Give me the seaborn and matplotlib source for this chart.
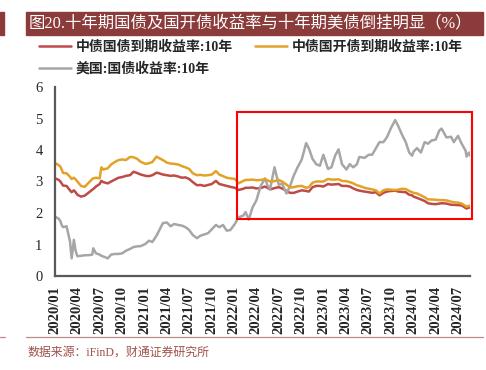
import matplotlib
matplotlib.use("Agg")
import matplotlib.pyplot as plt
import matplotlib.dates as mdates
from matplotlib.patches import Rectangle
from matplotlib.lines import Line2D
import seaborn as sns
import pandas as pd
import numpy as np

nan = np.nan

dates = [
    "2020-01-02", "2020-01-16", "2020-01-23", "2020-01-28", "2020-02-03", "2020-02-17", "2020-03-02", "2020-03-09", "2020-03-18", "2020-03-25",
    "2020-04-01", "2020-04-16", "2020-05-01", "2020-05-16", "2020-06-01", "2020-06-05", "2020-06-16", "2020-07-01", "2020-07-08", "2020-07-16",
    "2020-08-03", "2020-08-17", "2020-09-01", "2020-09-16", "2020-10-01", "2020-10-16", "2020-11-02", "2020-11-16", "2020-12-01", "2020-12-16",
    "2021-01-04", "2021-01-18", "2021-02-01", "2021-02-18", "2021-03-01", "2021-03-16", "2021-04-01", "2021-04-16", "2021-05-01", "2021-05-17",
    "2021-06-01", "2021-06-16", "2021-07-01", "2021-07-16", "2021-08-02", "2021-08-16", "2021-09-01", "2021-09-16", "2021-10-01", "2021-10-18",
    "2021-11-01", "2021-11-16", "2021-12-01", "2021-12-16",
    "2022-01-04", "2022-01-18", "2022-02-07", "2022-02-16", "2022-03-01", "2022-03-16", "2022-04-01", "2022-04-18", "2022-05-06", "2022-05-16",
    "2022-05-27", "2022-06-14", "2022-07-01", "2022-07-15", "2022-08-02", "2022-08-16", "2022-09-01", "2022-09-16", "2022-10-03", "2022-10-21",
    "2022-11-01", "2022-11-16", "2022-12-01", "2022-12-16", "2022-12-30",
    "2023-01-18", "2023-02-01", "2023-02-16", "2023-03-02", "2023-03-16", "2023-04-03", "2023-04-17", "2023-05-01", "2023-05-16", "2023-05-26",
    "2023-06-16", "2023-07-03", "2023-07-17", "2023-08-01", "2023-08-16", "2023-09-01", "2023-09-15", "2023-10-02", "2023-10-19", "2023-11-01",
    "2023-11-15", "2023-12-01", "2023-12-15", "2023-12-27",
    "2024-01-02", "2024-01-16", "2024-02-01", "2024-02-16", "2024-03-01", "2024-03-15", "2024-04-01", "2024-04-16", "2024-04-25", "2024-05-15",
    "2024-06-03", "2024-06-14", "2024-07-01", "2024-07-16", "2024-08-01", "2024-08-05", "2024-08-15", "2024-08-19",
]

# 中债国债到期收益率:10年
cgb_10y = [
    3.10, 3.05, 3.00, nan, 2.87, 2.86, 2.72, 2.66, 2.72, 2.66,
    2.58, 2.52, 2.55, 2.64, 2.74, 2.76, 2.84, 2.92, 3.02, 2.98,
    2.94, 3.00, 3.06, 3.12, 3.14, 3.18, 3.20, 3.31, 3.27, 3.22,
    3.18, 3.17, 3.20, 3.28, 3.26, 3.22, 3.20, 3.18, 3.19, 3.16,
    3.12, 3.13, 3.08, 2.98, 2.88, 2.89, 2.86, 2.89, 2.92, 3.02,
    2.92, 2.89, 2.86, 2.83,
    2.80, 2.73, 2.77, 2.80, 2.80, 2.81, 2.78, 2.79, 2.84, 2.80,
    2.75, 2.79, 2.82, 2.78, 2.70, 2.64, 2.64, 2.68, 2.72, 2.70,
    2.68, 2.82, 2.86, 2.86, 2.84,
    2.92, 2.90, 2.91, 2.92, 2.86, 2.86, 2.84, 2.78, 2.73, 2.71,
    2.68, 2.66, 2.64, 2.66, 2.56, 2.64, 2.68, 2.70, 2.71, 2.68,
    2.67, 2.66, 2.58, 2.56,
    2.52, 2.48, 2.43, 2.38, 2.31, 2.29, 2.28, 2.30, 2.31, 2.30,
    2.26, 2.26, 2.25, 2.24, 2.16, 2.14, 2.18, 2.17,
]

# 中债国开债到期收益率:10年
cdb_10y = [
    3.58, 3.52, 3.47, nan, 3.27, 3.26, 3.15, 3.08, 3.12, 3.07,
    3.00, 2.86, 2.83, 2.95, 3.08, 3.10, 3.12, 3.10, 3.45, 3.38,
    3.42, 3.54, 3.62, 3.68, 3.70, 3.68, 3.78, 3.77, 3.72, 3.62,
    3.56, 3.58, 3.62, 3.79, 3.74, 3.68, 3.60, 3.57, 3.56, 3.54,
    3.49, 3.45, 3.40, 3.26, 3.20, 3.21, 3.19, 3.20, 3.22, 3.33,
    3.22, 3.17, 3.12, 3.10,
    3.08, 2.94, 3.02, 3.05, 3.05, 3.06, 3.04, 3.05, 3.07, 3.04,
    3.00, 3.01, 3.05, 3.00, 2.90, 2.81, 2.82, 2.85, 2.86, 2.80,
    2.82, 2.96, 3.00, 3.00, 3.00,
    3.08, 3.06, 3.06, 3.07, 3.02, 3.01, 2.98, 2.94, 2.88, 2.86,
    2.80, 2.77, 2.75, 2.72, 2.62, 2.72, 2.75, 2.74, 2.73, 2.74,
    2.77, 2.76, 2.70, 2.66,
    2.64, 2.62, 2.56, 2.50, 2.43, 2.43, 2.42, 2.41, 2.41, 2.40,
    2.36, 2.34, 2.33, 2.30, 2.22, 2.20, 2.23, 2.22,
]

# 美国:国债收益率:10年
ust_10y = [
    1.88, 1.82, 1.74, 1.62, 1.55, 1.58, 1.10, 0.56, 1.15, 0.80,
    0.63, 0.64, 0.66, 0.66, 0.68, 0.88, 0.72, 0.68, 0.64, 0.62,
    0.56, 0.68, 0.70, 0.70, 0.72, 0.80, 0.86, 0.92, 0.94, 0.95,
    1.02, 1.12, 1.08, 1.28, 1.45, 1.68, 1.70, 1.58, 1.65, 1.62,
    1.60, 1.55, 1.46, 1.30, 1.20, 1.28, 1.32, 1.36, 1.48, 1.62,
    1.55, 1.62, 1.44, 1.46,
    1.66, 1.86, 1.92, 2.03, 1.79, 2.17, 2.40, 2.85, 3.10, 2.88,
    2.76, 3.45, 2.90, 2.93, 2.62, 2.85, 3.20, 3.45, 3.70, 4.22,
    4.05, 3.72, 3.55, 3.50, 3.85,
    3.40, 3.45, 3.82, 4.02, 3.55, 3.38, 3.55, 3.45, 3.55, 3.78,
    3.75, 3.85, 3.85, 4.05, 4.25, 4.25, 4.40, 4.70, 4.95, 4.75,
    4.50, 4.25, 3.92, 3.82,
    3.95, 4.06, 3.92, 4.25, 4.20, 4.30, 4.33, 4.62, 4.68, 4.40,
    4.42, 4.25, 4.45, 4.20, 3.98, 3.79, 3.92, 3.82,
]

series_names = ["中债国债到期收益率:10年", "美国:国债收益率:10年", "中债国开债到期收益率:10年"]
series_colors = ["#BE4B48", "#A6A6A6", "#E2A225"]
tick_dates = pd.date_range("2020-01-01", "2024-07-01", freq="QS")

title = "图20.十年期国债及国开债收益率与十年期美债倒挂明显（%）"
source = "数据来源：iFinD，财通证券研究所"

df = pd.DataFrame({"date": pd.to_datetime(dates),
                   series_names[0]: cgb_10y,
                   series_names[1]: ust_10y,
                   series_names[2]: cdb_10y})

sns.set_style("white")
cjk = ["Liberation Serif", "Noto Sans CJK SC"]
plt.rcParams["font.family"] = cjk

fig = plt.figure(figsize=(4.86, 3.70), dpi=100)
ax = fig.add_axes([55 / 486, 1 - 276 / 370, 415 / 486, 189 / 370])

for name, color in zip(series_names, series_colors):
    sns.lineplot(data=df, x="date", y=name, color=color, linewidth=1.8,
                 estimator=None, ax=ax, label=name, legend=False)

ax.set_ylim(0, 6)
ax.set_xlim(pd.Timestamp("2020-01-01"), pd.Timestamp("2024-08-19"))
ax.set_xlabel("")
ax.set_ylabel("")
ax.set_xticks(tick_dates)
ax.xaxis.set_major_formatter(mdates.DateFormatter("%Y/%m"))
for lab in ax.get_xticklabels():
    lab.set_rotation(90)
    lab.set_fontweight("bold")
    lab.set_fontsize(10.5)
    lab.set_family("Liberation Serif")
ax.set_yticks(range(0, 7))
for lab in ax.get_yticklabels():
    lab.set_fontsize(10.5)
    lab.set_family("Liberation Serif")
ax.tick_params(axis="x", length=0, pad=7)
ax.tick_params(axis="y", direction="in", length=4, width=1, color="#595959", pad=9)
for side in ["top", "right"]:
    ax.spines[side].set_visible(False)
for side in ["left", "bottom"]:
    ax.spines[side].set_color("#595959")
    ax.spines[side].set_linewidth(1.6)

# red highlight box
ax.add_patch(Rectangle((mdates.date2num(pd.Timestamp("2022-01-14")), 1.81),
                       mdates.date2num(pd.Timestamp("2024-08-28")) - mdates.date2num(pd.Timestamp("2022-01-14")),
                       5.22 - 1.81, fill=False, edgecolor="#FF0000", linewidth=1.5,
                       clip_on=False, zorder=5))

handles, labels = ax.get_legend_handles_labels()
fig.legend(handles, labels, loc="upper left", bbox_to_anchor=(39 / 486, 1 - 40.5 / 370),
           ncol=2, frameon=False, prop={"family": cjk, "size": 10, "weight": "bold"},
           handlelength=2.3, handletextpad=0.35, columnspacing=1.6,
           labelspacing=0.62, borderpad=0, borderaxespad=0)

# title banner
fig.patches.append(Rectangle((26 / 486, 1 - 34.5 / 370), 457 / 486, 22 / 370,
                             transform=fig.transFigure, color="#8C3B3B", zorder=0))
fig.patches.append(Rectangle((0, 1 - 34.5 / 370), 4 / 486, 22 / 370,
                             transform=fig.transFigure, color="#8C3B3B", zorder=0))
fig.text(29 / 486, 1 - 23.5 / 370, title, color="white", fontsize=11.8,
         va="center", ha="left", family=cjk)

# footer
fig.lines.append(Line2D([26 / 486, 483 / 486], [1 - 337 / 370] * 2,
                        transform=fig.transFigure, color="#B98A87", linewidth=0.9))
fig.lines.append(Line2D([0, 5 / 486], [1 - 337 / 370] * 2,
                        transform=fig.transFigure, color="#B98A87", linewidth=0.9))
fig.text(27 / 486, 1 - 353 / 370, source, color="#A0504A", fontsize=8.6,
         va="center", ha="left", family=cjk)

fig.savefig("out.png", dpi=100)
plt.close(fig)
